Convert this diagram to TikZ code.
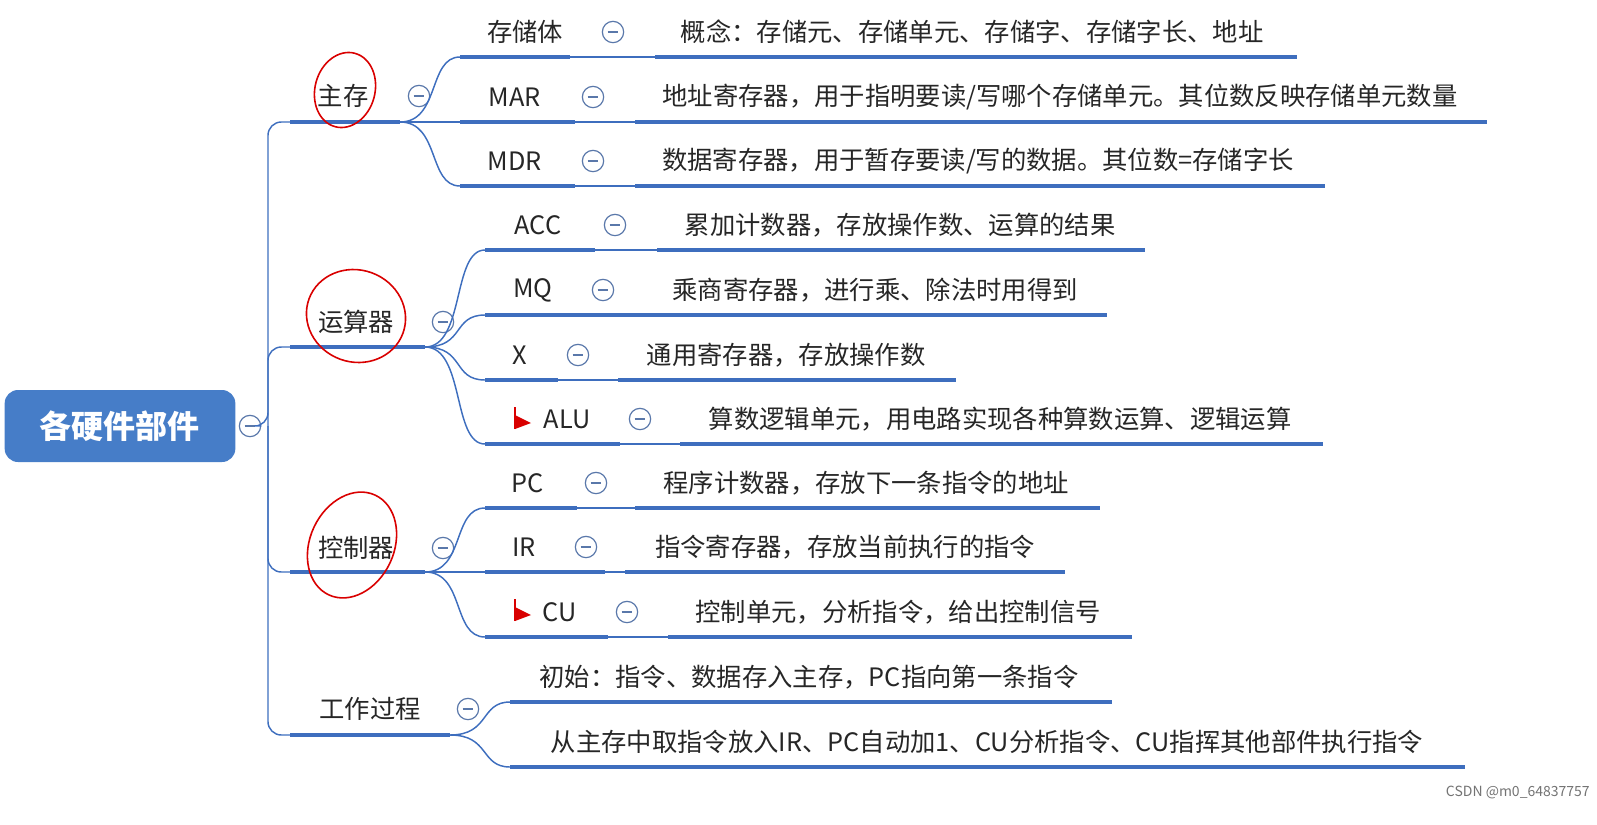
\documentclass[tikz,border=0pt]{standalone}
\usepackage{fontspec}
\setmainfont{Noto Sans CJK SC}
\usetikzlibrary{positioning}
\definecolor{lineblue}{RGB}{62,110,190}
\definecolor{rootblue}{RGB}{70,125,200}
\definecolor{foldgray}{RGB}{90,120,170}
\tikzset{
  txt/.style={inner sep=0pt,font=\fontsize{19}{22}\selectfont,text=black!85},
  bar/.style={lineblue,line width=3pt},
  link/.style={lineblue,line width=1.1pt},
  fold/.style={circle,draw=foldgray,line width=0.9pt,minimum size=16pt,inner sep=0pt},
  redmark/.style={red!85!black,line width=1.2pt}
}
\newcommand{\foldat}[2]{\node[fold] (#1) at #2 {}; \draw[foldgray,line width=0.9pt] ([xshift=-4pt]#1.center) -- ([xshift=4pt]#1.center);}
\newcommand{\flagat}[1]{\fill[red!85!black] #1 ++(0,11) -- ++(16,-6) -- ++(-16,-8) -- cycle; \draw[red!85!black,line width=1.5pt] #1 ++(0,11) -- ++(0,-22);}
\begin{document}
\begin{tikzpicture}[x=0.75pt,y=-0.75pt]
\useasboundingbox (0,0) rectangle (1597,825);
% root
\node[fill=rootblue,rounded corners=10pt,minimum width=173pt,minimum height=54pt,inner sep=0pt,
  font=\fontsize{24}{27}\selectfont\bfseries,text=white] (root) at (120,426) {各硬件部件};
\foldat{froot}{(250,426)}
% level one
\node[txt] (zc) at (343,96) {主存};
\node[txt] (ysq) at (356,322) {运算器};
\node[txt] (kzq) at (356,548) {控制器};
\node[txt] (gzgc) at (370,709) {工作过程};
\draw[bar] (290,122) coordinate (zcL) -- (400,122) coordinate (zcR);
\draw[bar] (290,347) coordinate (ysqL) -- (425,347) coordinate (ysqR);
\draw[bar] (290,572) coordinate (kzqL) -- (425,572) coordinate (kzqR);
\draw[bar] (290,735) coordinate (gzgcL) -- (450,735) coordinate (gzgcR);
\foldat{fzc}{(419,96)}
\foldat{fysq}{(443,322)}
\foldat{fkzq}{(443,548)}
\foldat{fgzgc}{(468,709)}
\draw[link,rounded corners=10pt] (froot) -- (268,426) |- (zcL);
\draw[link,rounded corners=10pt] (268,426) |- (ysqL);
\draw[link,rounded corners=10pt] (268,426) |- (kzqL);
\draw[link,rounded corners=10pt] (268,426) |- (gzgcL);
% hand-drawn marks
\draw[redmark,rotate around={-15:(345,90)}] (345,90) ellipse (30 and 38);
\draw[redmark,rotate around={-20:(356,316)}] (356,316) ellipse (50 and 46);
\draw[redmark,rotate around={-25:(352,545)}] (352,545) ellipse (42 and 55);
% 主存
\foreach \nm/\lbl/\y/\tx/\x/\fx/\lx/\rx/\ttx/\leaf in {
  ccti/存储体/57/525/570/613/655/1297/972/{概念：存储元、存储单元、存储字、存储字长、地址},
  mar/MAR/122/515/575/593/635/1487/1060/{地址寄存器，用于指明要读/写哪个存储单元。其位数反映存储单元数量},
  mdr/MDR/186/515/575/593/635/1325/978/{数据寄存器，用于暂存要读/写的数据。其位数=存储字长}}{
  \node[txt] (\nm) at (\tx,\y-25) {\lbl};
  \draw[bar] (460,\y) coordinate (\nm L) -- (\x,\y) coordinate (\nm R);
  \draw[link] (\nm R) -- (\lx,\y);
  \draw[bar] (\lx,\y) -- (\rx,\y);
  \node[txt] (\nm t) at (\ttx,\y-25) {\leaf};
  \foldat{f\nm}{(\fx,\y-25)}
  \draw[link] (zcR) .. controls (440,122) and (428,\y) .. (\nm L);
}
% 运算器
\foreach \nm/\lbl/\y/\tx/\x/\fx/\lx/\rx/\ttx/\leaf in {
  acc/ACC/250/538/595/615/657/1145/900/{累加计数器，存放操作数、运算的结果},
  mq/MQ/315/533/583/603/583/1107/875/{乘商寄存器，进行乘、除法时用得到},
  xr/X/380/520/558/578/618/956/786/{通用寄存器，存放操作数},
  alu/ALU/444/567/620/640/680/1323/1000/{算数逻辑单元，用电路实现各种算数运算、逻辑运算}}{
  \node[txt] (\nm) at (\tx,\y-25) {\lbl};
  \draw[bar] (485,\y) coordinate (\nm L) -- (\x,\y) coordinate (\nm R);
  \draw[link] (\nm R) -- (\lx,\y);
  \draw[bar] (\lx,\y) -- (\rx,\y);
  \node[txt] (\nm t) at (\ttx,\y-25) {\leaf};
  \foldat{f\nm}{(\fx,\y-25)}
  \draw[link] (ysqR) .. controls (465,347) and (452,\y) .. (\nm L);
}
\flagat{(515,418)}
% 控制器
\foreach \nm/\lbl/\y/\tx/\x/\fx/\lx/\rx/\ttx/\leaf in {
  pc/PC/508/528/577/596/635/1100/866/{程序计数器，存放下一条指令的地址},
  ir/IR/572/524/605/586/625/1065/845/{指令寄存器，存放当前执行的指令},
  cu/CU/637/560/608/627/668/1132/898/{控制单元，分析指令，给出控制信号}}{
  \node[txt] (\nm) at (\tx,\y-25) {\lbl};
  \draw[bar] (485,\y) coordinate (\nm L) -- (\x,\y) coordinate (\nm R);
  \draw[link] (\nm R) -- (\lx,\y);
  \draw[bar] (\lx,\y) -- (\rx,\y);
  \node[txt] (\nm t) at (\ttx,\y-25) {\leaf};
  \foldat{f\nm}{(\fx,\y-25)}
  \draw[link] (kzqR) .. controls (465,572) and (452,\y) .. (\nm L);
}
\flagat{(515,610)}
% 工作过程
\node[txt] (cs) at (809,677) {初始：指令、数据存入主存，PC指向第一条指令};
\node[txt] (qz) at (987,742) {从主存中取指令放入IR、PC自动加1、CU分析指令、CU指挥其他部件执行指令};
\draw[bar] (510,702) coordinate (csL) -- (1112,702);
\draw[bar] (510,767) coordinate (qzL) -- (1465,767);
\draw[link] (gzgcR) .. controls (490,735) and (480,702) .. (csL);
\draw[link] (gzgcR) .. controls (490,735) and (480,767) .. (qzL);
\node[inner sep=0pt,font=\fontsize{10.5}{12}\selectfont,text=black!55,anchor=east] (wm) at (1590,792) {CSDN @m0\_64837757};
\end{tikzpicture}
\end{document}
